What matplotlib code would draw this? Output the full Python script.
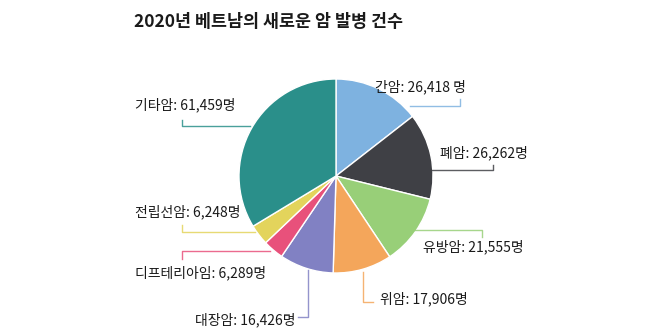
import matplotlib
matplotlib.use("Agg")
import matplotlib.pyplot as plt

plt.rcParams['font.family'] = ['Noto Sans CJK KR', 'DejaVu Sans']

# data
cancers = ["간암", "폐암", "유방암", "위암", "대장암", "디프테리아임", "전립선암", "기타암"]
cases = [26418, 26262, 21555, 17906, 16426, 6289, 6248, 61459]
labels = ["간암: 26,418 명", "폐암: 26,262명", "유방암: 21,555명", "위암: 17,906명",
          "대장암: 16,426명", "디프테리아임: 6,289명", "전립선암: 6,248명", "기타암: 61,459명"]
colors = ["#7eb2e0", "#3f4045", "#98cf78", "#f4a65b", "#8181c3", "#e8517b", "#e3d45c", "#2a8f8a"]

W, H = 660, 330
fig = plt.figure(figsize=(6.6, 3.3), dpi=100)
ax = fig.add_axes([0, 0, 1, 1])

cx, cy, r = 336, H - 176, 97
ax.pie(cases, colors=colors, startangle=90, counterclock=False,
       center=(cx, cy), radius=r,
       wedgeprops=dict(edgecolor="white", linewidth=1))
ax.set_xlim(0, W)
ax.set_ylim(0, H)
ax.set_aspect("equal")
ax.axis("off")

def y(v):
    return H - v

# label layout (pixel coords from top), leader line points
layout = [
    ((375, 87), [(410, 106), (460, 106), (460, 99)]),
    ((440, 153), [(432, 170), (493, 170), (493, 165)]),
    ((423, 247), [(383, 230), (482, 230), (482, 237)]),
    ((380, 299), [(363, 272), (363, 302), (373, 302)]),
    ((195, 320), [(308, 270), (308, 317), (298, 317)]),
    ((135, 273), [(270, 251), (182, 251), (182, 259)]),
    ((135, 212), [(255, 232), (182, 232), (182, 225)]),
    ((135, 105), [(250, 126), (182, 126), (182, 120)]),
]

for lab, col, (tpos, pts) in zip(labels, colors, layout):
    ax.plot([p[0] for p in pts], [y(p[1]) for p in pts], color=col, lw=1, alpha=0.85)
    ax.text(tpos[0], y(tpos[1]), lab, fontsize=10, color="#1a1a1a",
            ha="left", va="center")

ax.text(134, y(22), "2020년 베트남의 새로운 암 발병 건수", fontsize=12.5,
        fontweight="bold", color="#1a1a1a", ha="left", va="center")

fig.savefig("out.png", dpi=100)
